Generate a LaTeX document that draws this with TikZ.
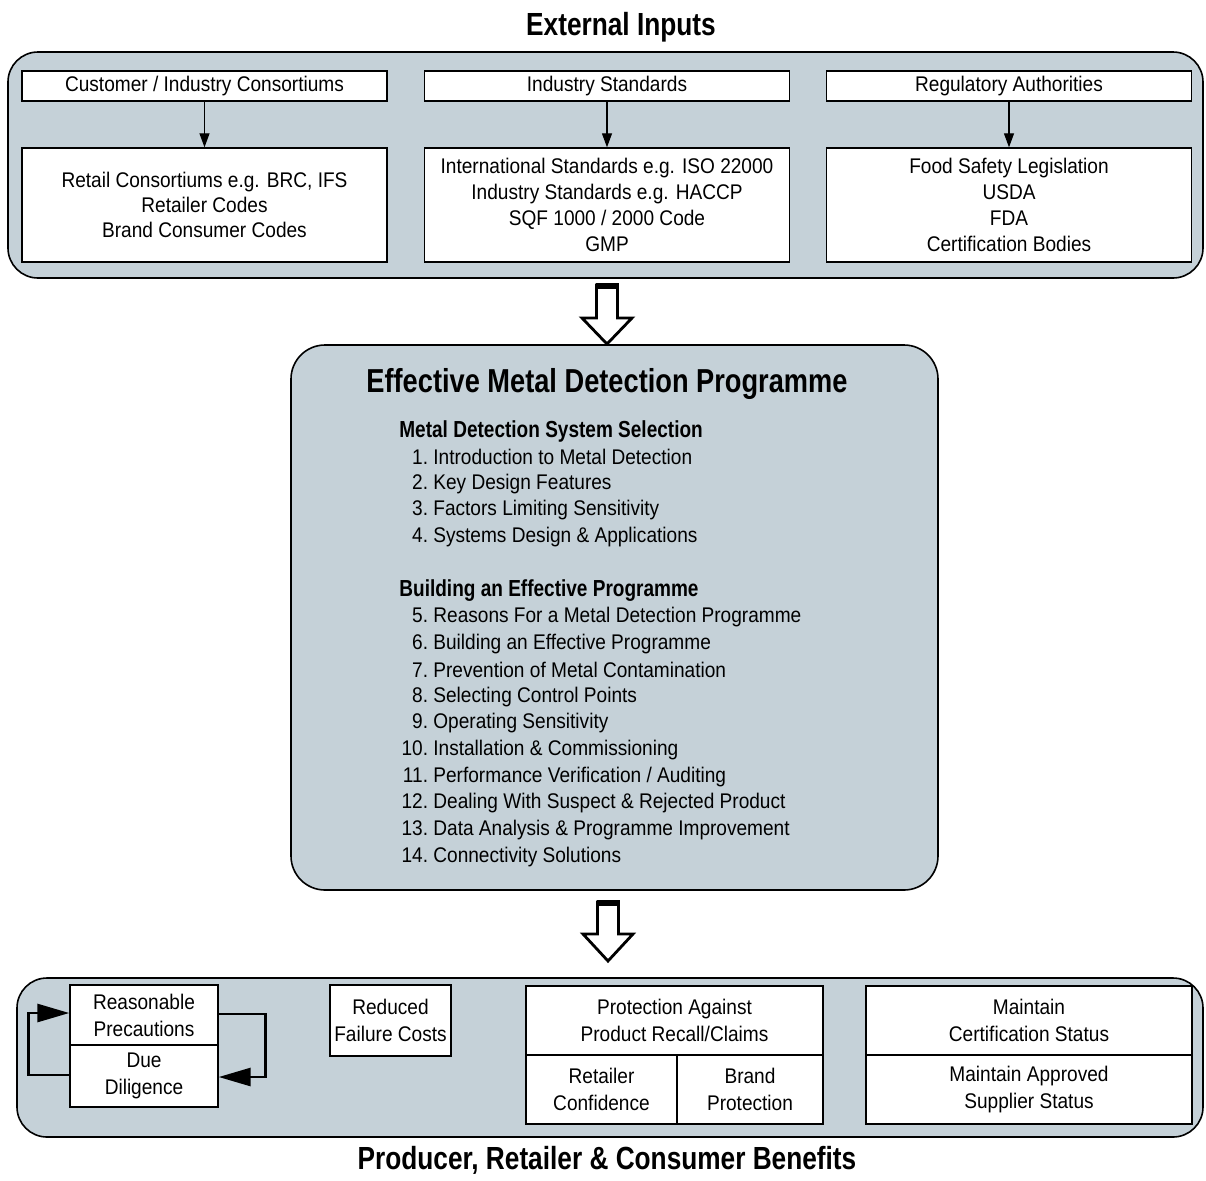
\documentclass[tikz,border=0pt]{standalone}
\usepackage{fontspec}
\setmainfont{Liberation Sans}[FakeStretch=0.9]
\newfontfamily\headfont{Liberation Sans}[FakeStretch=0.82]
\usetikzlibrary{arrows.meta}
\definecolor{panel}{RGB}{197,209,216}
\newcommand{\bodyfs}{\fontsize{10.6}{13}\selectfont}
\newcommand{\itm}[2]{\llap{#1.\ }#2}
\begin{document}
\begin{tikzpicture}[x=0.5pt,y=-0.5pt,
  panelbox/.style={draw, fill=panel, line width=0.8pt, rounded corners=15pt, inner sep=0pt},
  wbox/.style={draw, fill=white, line width=0.7pt, inner sep=0pt, align=center, font=\bodyfs},
  smallarrow/.style={-{Triangle[length=7pt,width=5pt]}, line width=0.6pt},
  looparrow/.style={-{Triangle[length=16pt,width=9pt]}, line width=1.4pt},
  hollow/.style={draw, fill=white, line width=1.4pt, line join=miter},
  title/.style={font=\headfont\bfseries\fontsize{16}{19}\selectfont, inner sep=0pt},
  sub/.style={font=\headfont\bfseries\fontsize{11.6}{14}\selectfont, anchor=west, inner sep=0pt},
  item/.style={font=\bodyfs, anchor=west, inner sep=0pt}
]
\useasboundingbox (0,0) rectangle (1206,1180);

% ---------- External inputs ----------
\node[title] (tin) at (621,27) {External Inputs};
\node[panelbox, minimum width=597.5pt, minimum height=113pt] (inputs) at (605.5,165) {};

\node[wbox, minimum width=182.5pt, minimum height=15pt] (c1) at (204.5,86) {Customer / Industry Consortiums};
\node[wbox, minimum width=182.5pt, minimum height=15pt] (c2) at (607,86) {Industry Standards};
\node[wbox, minimum width=182.5pt, minimum height=15pt] (c3) at (1009,86) {Regulatory Authorities};

\node[wbox, minimum width=182.5pt, minimum height=57pt, font=\fontsize{10.6}{12.4}\selectfont] (l1) at (204.5,205)
  {Retail Consortiums e.g. BRC, IFS\\Retailer Codes\\Brand Consumer Codes};
\node[wbox, minimum width=182.5pt, minimum height=57pt] (l2) at (607,205)
  {International Standards e.g. ISO 22000\\Industry Standards e.g. HACCP\\SQF 1000 / 2000 Code\\GMP};
\node[wbox, minimum width=182.5pt, minimum height=57pt] (l3) at (1009,205)
  {Food Safety Legislation\\USDA\\FDA\\Certification Bodies};

\draw[smallarrow] (c1) -- (l1);
\draw[smallarrow] (c2) -- (l2);
\draw[smallarrow] (c3) -- (l3);

% ---------- hollow arrow 1 ----------
\coordinate (h1) at (607,285);
\draw[hollow] (h1) ++(-10.5,0) -- ++(21,0) -- ++(0,33) -- ++(14.5,0) -- ++(-25,26) -- ++(-25,-26) -- ++(14.5,0) -- cycle;
\draw[line width=2.6pt] (h1) ++(-11.5,1) -- ++(23,0);

% ---------- Programme ----------
\node[panelbox, rounded corners=17pt, minimum width=323.5pt, minimum height=272.5pt] (prog) at (614.5,617.5) {};
\node[title, font=\headfont\bfseries\fontsize{16.6}{19}\selectfont] (tprog) at (607,384) {Effective Metal Detection Programme};

\node[sub] (s1) at (399,431) {Metal Detection System Selection};
\node[item] (i1) at (433,457) {\itm{1}{Introduction to Metal Detection}};
\node[item] (i2) at (433,484) {\itm{2}{Key Design Features}};
\node[item] (i3) at (433,510) {\itm{3}{Factors Limiting Sensitivity}};
\node[item] (i4) at (433,537) {\itm{4}{Systems Design \& Applications}};

\node[sub] (s2) at (399,591) {Building an Effective Programme};
\node[item] (i5) at (433,617) {\itm{5}{Reasons For a Metal Detection Programme}};
\node[item] (i6) at (433,644) {\itm{6}{Building an Effective Programme}};
\node[item] (i7) at (433,670) {\itm{7}{Prevention of Metal Contamination}};
\node[item] (i8) at (433,697) {\itm{8}{Selecting Control Points}};
\node[item] (i9) at (433,723) {\itm{9}{Operating Sensitivity}};
\node[item] (i10) at (433,750) {\itm{10}{Installation \& Commissioning}};
\node[item] (i11) at (433,777) {\itm{11}{Performance Verification / Auditing}};
\node[item] (i12) at (433,803) {\itm{12}{Dealing With Suspect \& Rejected Product}};
\node[item] (i13) at (433,830) {\itm{13}{Data Analysis \& Programme Improvement}};
\node[item] (i14) at (433,857) {\itm{14}{Connectivity Solutions}};

% ---------- hollow arrow 2 ----------
\coordinate (h2) at (608,902);
\draw[hollow] (h2) ++(-10.5,0) -- ++(21,0) -- ++(0,32) -- ++(14.5,0) -- ++(-25,27) -- ++(-25,-27) -- ++(14.5,0) -- cycle;
\draw[line width=2.6pt] (h2) ++(-11.5,1) -- ++(23,0);

% ---------- Benefits ----------
\node[panelbox, minimum width=593pt, minimum height=79.5pt] (ben) at (610,1057.5) {};

\node[wbox, minimum width=74pt, minimum height=30pt, font=\fontsize{10.6}{13.5}\selectfont] (rp) at (144,1015) {Reasonable\\Precautions};
\node[wbox, minimum width=74pt, minimum height=31pt, font=\fontsize{10.6}{13.5}\selectfont] (dd) at (144,1076) {Due\\Diligence};
\draw[looparrow] (dd.west) ++(0,-1) -- ++(-41,0) |- ([yshift=1pt]rp.west);
\draw[looparrow] (rp.east) ++(0,-1) -- ++(47,0) |- ([yshift=-0.5pt]dd.east);

\node[wbox, minimum width=60.5pt, minimum height=35.5pt, font=\fontsize{10.6}{13.5}\selectfont] (rf) at (390.5,1020.5) {Reduced\\Failure Costs};

\node[wbox, minimum width=148.5pt, minimum height=34.5pt, font=\fontsize{10.6}{13.5}\selectfont] (pa) at (674.5,1020.5) {Protection Against\\Product Recall/Claims};
\node[wbox, minimum width=75.5pt, minimum height=34.5pt, font=\fontsize{10.6}{13.5}\selectfont] (rc) at (601.5,1089.5) {Retailer\\Confidence};
\node[wbox, minimum width=73pt, minimum height=34.5pt, font=\fontsize{10.6}{13.5}\selectfont] (bp) at (750,1089.5) {Brand\\Protection};

\node[wbox, minimum width=163pt, minimum height=34.5pt, font=\fontsize{10.6}{13.5}\selectfont] (mc) at (1029,1020.5) {Maintain\\Certification Status};
\node[wbox, minimum width=163pt, minimum height=34.5pt, font=\fontsize{10.6}{13.5}\selectfont] (ms) at (1029,1089.5) {Maintain Approved\\Supplier Status};

\node[title] (tben) at (607,1160) {Producer, Retailer \& Consumer Benefits};
\end{tikzpicture}
\end{document}
